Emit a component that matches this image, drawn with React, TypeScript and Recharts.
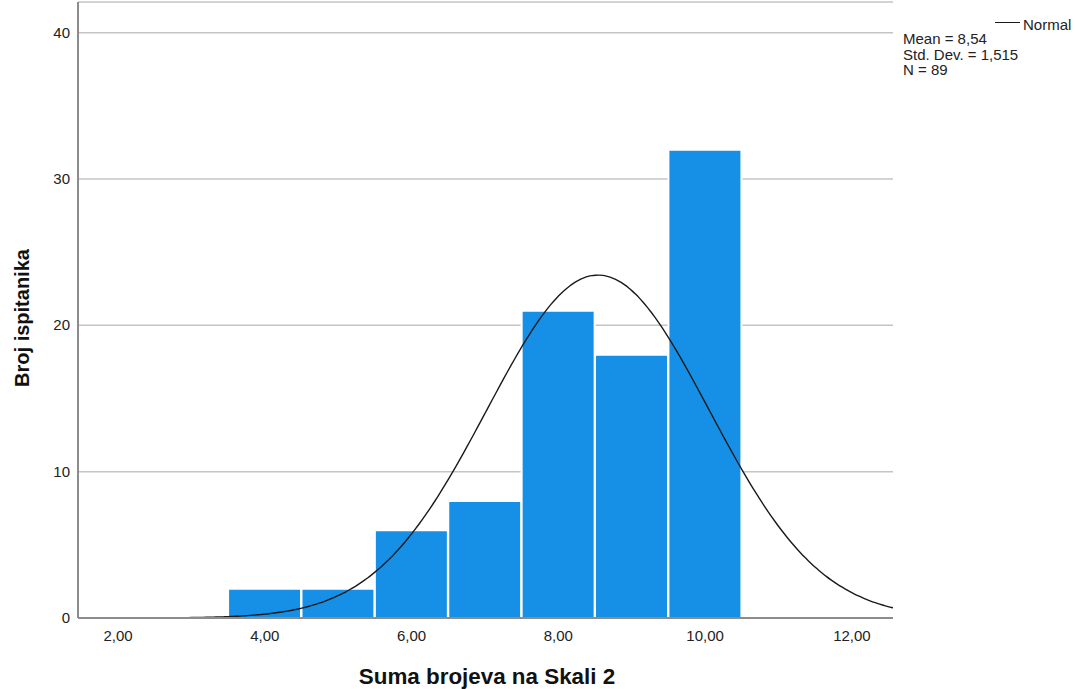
import { ComposedChart, Bar, Line, XAxis, YAxis, CartesianGrid } from "recharts";

// histogram bins (bin centres) and counts
const binCenters = [4, 5, 6, 7, 8, 9, 10];
const counts = [2, 2, 6, 8, 21, 18, 32];

// fitted normal as reported in the legend
const mean = 8.54;
const stdDev = 1.515;
const n = 89;
const binWidth = 1;

const xTicks = [2, 4, 6, 8, 10, 12];
const yTicks = [0, 10, 20, 30, 40];

const X_MIN = 1.455;
const X_MAX = 12.56;

const normalAt = (x: number) =>
  ((n * binWidth) / (stdDev * Math.sqrt(2 * Math.PI))) *
  Math.exp(-0.5 * ((x - mean) / stdDev) ** 2);

const curveXs: number[] = [];
for (let x = X_MIN; x < X_MAX; x += 0.05) curveXs.push(+x.toFixed(3));
curveXs.push(X_MAX);

const histData = binCenters.map((x, i) => ({ x, count: counts[i] }));
const curveData = curveXs.map((x) => ({ x, normal: normalAt(x) }));

const fmt = (v: number) => v.toFixed(2).replace(".", ",");
const font = '"Liberation Sans", Arial, sans-serif';

const XTick = (props: any) => (
  <text x={props.x} y={props.y} dy={23} textAnchor="middle" fill="#222" style={{ fontSize: 15, fontFamily: font }}>
    {fmt(props.payload.value)}
  </text>
);

const YTick = (props: any) => (
  <text x={props.x} y={props.y} dx={-8} dy={5} textAnchor="end" fill="#222" style={{ fontSize: 15, fontFamily: font }}>
    {props.payload.value}
  </text>
);

export default function App() {
  return (
    <div style={{ position: "absolute", left: 0, top: 0, width: 1075, height: 689, fontFamily: font }}>
      <ComposedChart
        width={1075}
        height={689}
        data={histData}
        barCategoryGap={0}
        barGap={0}
        margin={{ top: 2, right: 182, left: 18, bottom: 41 }}
      >
        <CartesianGrid horizontal vertical={false} stroke="#c4c4c4" strokeWidth={1.5} xAxisId="bins" />
        <XAxis
          xAxisId="bins"
          dataKey="x"
          type="number"
          domain={[X_MIN, X_MAX]}
          ticks={xTicks}
          allowDataOverflow
          tickLine={false}
          tickSize={0}
          tickMargin={0}
          axisLine={{ stroke: "#8c8c8c", strokeWidth: 2 }}
          tick={<XTick />}
          height={30}
        />
        <XAxis xAxisId="curve" dataKey="x" type="number" domain={[X_MIN, X_MAX]} allowDataOverflow hide />
        <YAxis
          type="number"
          domain={[0, 42.1]}
          ticks={yTicks}
          allowDataOverflow
          tickLine={false}
          tickSize={0}
          tickMargin={0}
          axisLine={{ stroke: "#8c8c8c", strokeWidth: 2 }}
          tick={<YTick />}
          width={60}
        />
        <Bar xAxisId="bins" dataKey="count" fill="#1590e6" stroke="#ffffff" strokeWidth={2} isAnimationActive={false} />
        <Line xAxisId="curve" data={curveData} dataKey="normal" type="monotone" stroke="#1a1a1a" strokeWidth={1.4} dot={false} isAnimationActive={false} />
      </ComposedChart>

      <div style={{ position: "absolute", left: 22, top: 318, transform: "translate(-50%, -50%) rotate(-90deg)", fontWeight: "bold", fontSize: 20, whiteSpace: "nowrap", color: "#111" }}>
        Broj ispitanika
      </div>
      <div style={{ position: "absolute", left: 487, top: 677, transform: "translate(-50%, -50%)", fontWeight: "bold", fontSize: 22.4, whiteSpace: "nowrap", color: "#111" }}>
        Suma brojeva na Skali 2
      </div>

      <div style={{ position: "absolute", left: 995, top: 22, width: 25, borderTop: "1.3px solid #1a1a1a" }} />
      <div style={{ position: "absolute", left: 1023, top: 17, fontSize: 15, color: "#222", lineHeight: "16px" }}>Normal</div>
      <div style={{ position: "absolute", left: 903, top: 31, fontSize: 15, color: "#222", lineHeight: "15.5px", whiteSpace: "nowrap" }}>
        <div>Mean = 8,54</div>
        <div>Std. Dev. = 1,515</div>
        <div>N = 89</div>
      </div>
    </div>
  );
}
